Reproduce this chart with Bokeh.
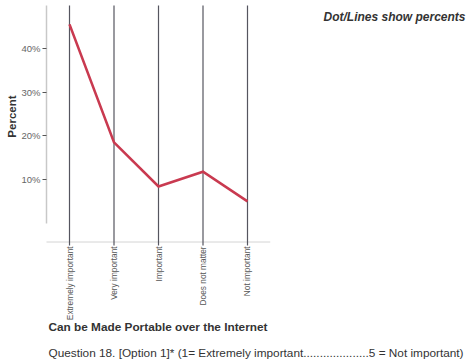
import math
from bokeh.plotting import figure
from bokeh.models import Range1d, FixedTicker, NumeralTickFormatter, Label, LinearAxis
from bokeh.core.properties import value
from bokeh.embed import file_html
from bokeh.resources import INLINE

categories = ["Extremely important", "Very important", "Important", "Does not matter", "Not important"]
percents = [0.455, 0.185, 0.084, 0.118, 0.050]
y_ticks = [0.1, 0.2, 0.3, 0.4]
y_title = "Percent"

xs = list(range(len(categories)))
n = len(xs)

Y_TOP = 0.498      # top of the category lines / axis
Y_BASE = -0.043    # dotted baseline
Y_TICKEND = -0.051 # category lines end slightly below baseline
Y_TITLE_POS = 0.244

p = figure(width=467, height=363, output_backend="svg", toolbar_location=None,
           x_range=Range1d(-0.517, 8.944), y_range=Range1d(-0.321, 0.5096),
           min_border_left=46, min_border_right=0, min_border_top=0, min_border_bottom=0,
           x_axis_location=None, y_axis_location=None)
p.outline_line_color = None
p.grid.visible = False
p.background_fill_color = "white"
p.border_fill_color = "white"

# y axis
ya = LinearAxis(ticker=FixedTicker(ticks=y_ticks), formatter=NumeralTickFormatter(format="0%"),
                bounds=(0, Y_TOP))
ya.axis_line_color = "#c8c8c8"
ya.axis_line_width = 1.5
ya.major_tick_line_color = "#555555"
ya.major_tick_out = 4
ya.major_tick_in = 0
ya.minor_tick_line_color = None
ya.major_label_text_font = "Liberation Sans"
ya.major_label_text_font_size = "9.5px"
ya.major_label_text_color = "#666666"
ya.major_label_standoff = 2
p.add_layout(ya, "left")

# y title, centred on the scale (second, label-only axis)
yt = LinearAxis(ticker=FixedTicker(ticks=[Y_TITLE_POS]),
                major_label_overrides={Y_TITLE_POS: y_title})
yt.axis_line_color = None
yt.major_tick_line_color = None
yt.minor_tick_line_color = None
yt.major_label_orientation = "vertical"
yt.major_label_text_font = "Liberation Sans"
yt.major_label_text_font_style = "bold"
yt.major_label_text_font_size = "11.5px"
yt.major_label_text_color = "#333333"
yt.major_label_standoff = -6
p.add_layout(yt, "left")

# dotted baseline
p.segment(x0=[xs[0] - 0.517], y0=[Y_BASE], x1=[xs[-1] + 0.52], y1=[Y_BASE],
          line_color="#a8a8a8", line_dash="1 1", line_width=1)

# vertical category lines
p.segment(x0=xs, y0=[Y_TICKEND] * n, x1=xs, y1=[Y_TOP] * n,
          line_color="#55555f", line_width=1.2)

# percent line
p.line(xs, percents, line_color="#c93a50", line_width=2.6, line_join="miter")

# category labels (vertical)
p.text(x=xs, y=[Y_TICKEND - 0.002] * n, text=categories, angle=math.pi / 2,
       text_align="right", text_baseline="middle",
       text_font=value("Liberation Sans"), text_font_size="8.3px", text_color="#555555")

p.add_layout(Label(x=419, y=347, x_units="screen", y_units="screen",
                   text="Dot/Lines show percents", text_align="right", text_baseline="middle",
                   text_font="Liberation Sans", text_font_style="bold italic",
                   text_font_size="12px", text_color="#333333"))
p.add_layout(Label(x=2, y=37, x_units="screen", y_units="screen",
                   text="Can be Made Portable over the Internet", text_align="left",
                   text_baseline="middle", text_font="Liberation Sans", text_font_style="bold",
                   text_font_size="11.8px", text_color="#333333"))
p.add_layout(Label(x=2, y=11, x_units="screen", y_units="screen",
                   text="Question 18. [Option 1]* (1= Extremely important....................5 = Not important)",
                   text_align="left", text_baseline="middle", text_font="Liberation Sans",
                   text_font_size="11.8px", text_color="#333333"))

open("out.html", "w").write(file_html(p, INLINE))
